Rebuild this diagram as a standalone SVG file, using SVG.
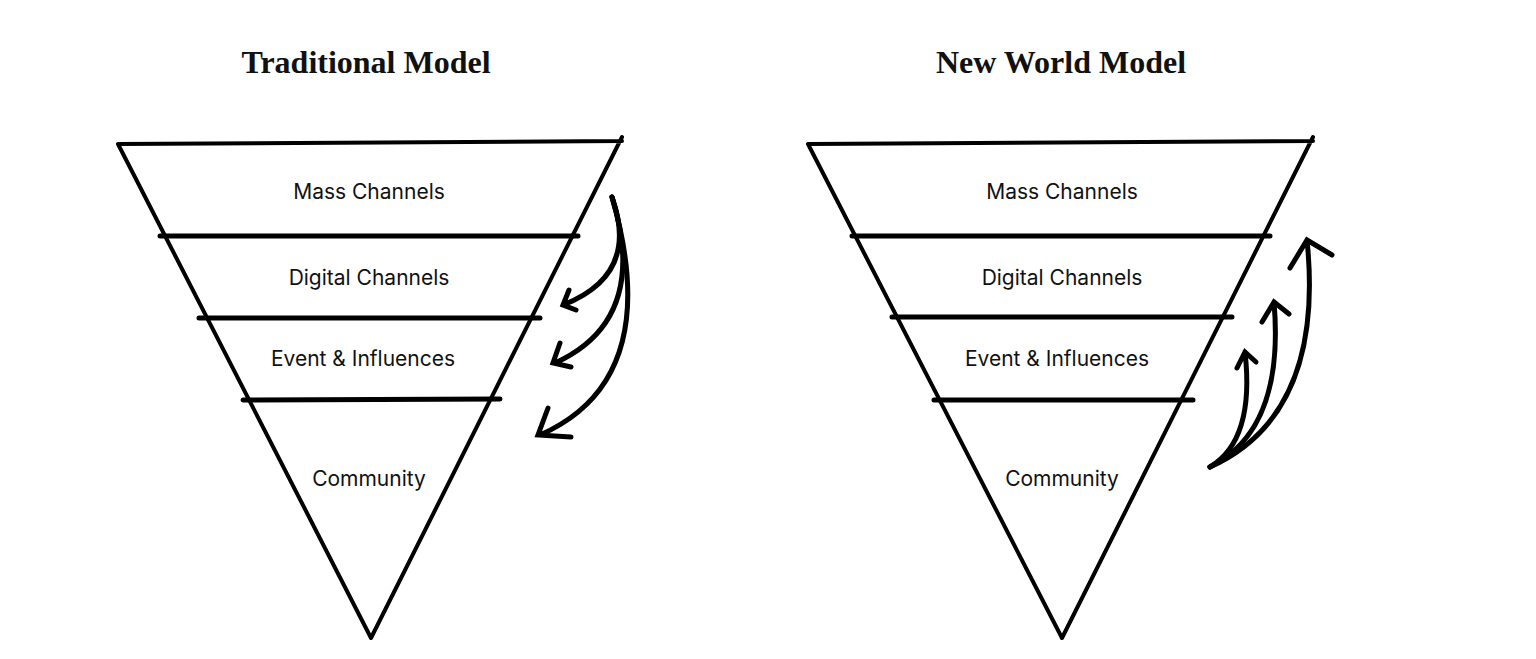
<svg xmlns="http://www.w3.org/2000/svg" width="1536" height="659" viewBox="0 0 1536 659">
<style>
.f{fill:none;stroke:#000;stroke-width:4;stroke-linecap:round;stroke-linejoin:round}
.b{stroke-width:5}
.a{fill:none;stroke:#000;stroke-width:5;stroke-linecap:round}
.t{font-family:Inter,"Open Sans",sans-serif;font-size:21px;text-anchor:middle;fill:#111}
.h{font-family:"Liberation Serif",serif;font-weight:bold;font-size:32px;text-anchor:middle;fill:#111}
</style>
<rect width="1536" height="659" fill="#fff"/>
<text class="h" x="366" y="73">Traditional Model</text>
<text class="h" x="1061" y="73">New World Model</text>
<g id="traditional-funnel">
<path class="f" d="M118 144 L622 141 M118 144 L371 638 L622 137"/>
<path class="f b" d="M160 236 L578 236 M199 318 L540 318 M243 400 L500 399"/>
<text class="t" x="369" y="199">Mass Channels</text>
<text class="t" x="369" y="285">Digital  Channels</text>
<text class="t" x="363" y="366">Event &amp; Influences</text>
<text class="t" x="369" y="486">Community</text>
</g>
<g id="new-funnel">
<path class="f" d="M808 144 L1313 141 M808 144 L1062 638 L1313 137"/>
<path class="f b" d="M852 236 L1270 236 M892 317 L1232 317 M934 400 L1193 400"/>
<text class="t" x="1062" y="199">Mass Channels</text>
<text class="t" x="1062" y="285">Digital  Channels</text>
<text class="t" x="1057" y="366">Event &amp; Influences</text>
<text class="t" x="1062" y="486">Community</text>
</g>
<g id="connectors">
<path class="a" d="M612 197 Q640 275 563 305 M569 290 L563 305 L576 310"/>
<path class="a" d="M612 197 Q650 320 555 363 M560 343 L553 363 L571 367"/>
<path class="a" d="M612 197 Q665 380 540 435 M548 408 L538 435 L571 437"/>
<path class="a" d="M1210 467 Q1255 440 1245 352 M1237 368 L1245 352 L1256 362"/>
<path class="a" d="M1210 467 Q1285 430 1274 302 M1262 322 L1274 302 L1289 314"/>
<path class="a" d="M1210 467 Q1325 415 1307 240 M1290 268 L1307 240 L1332 255"/>
</g>
</svg>
